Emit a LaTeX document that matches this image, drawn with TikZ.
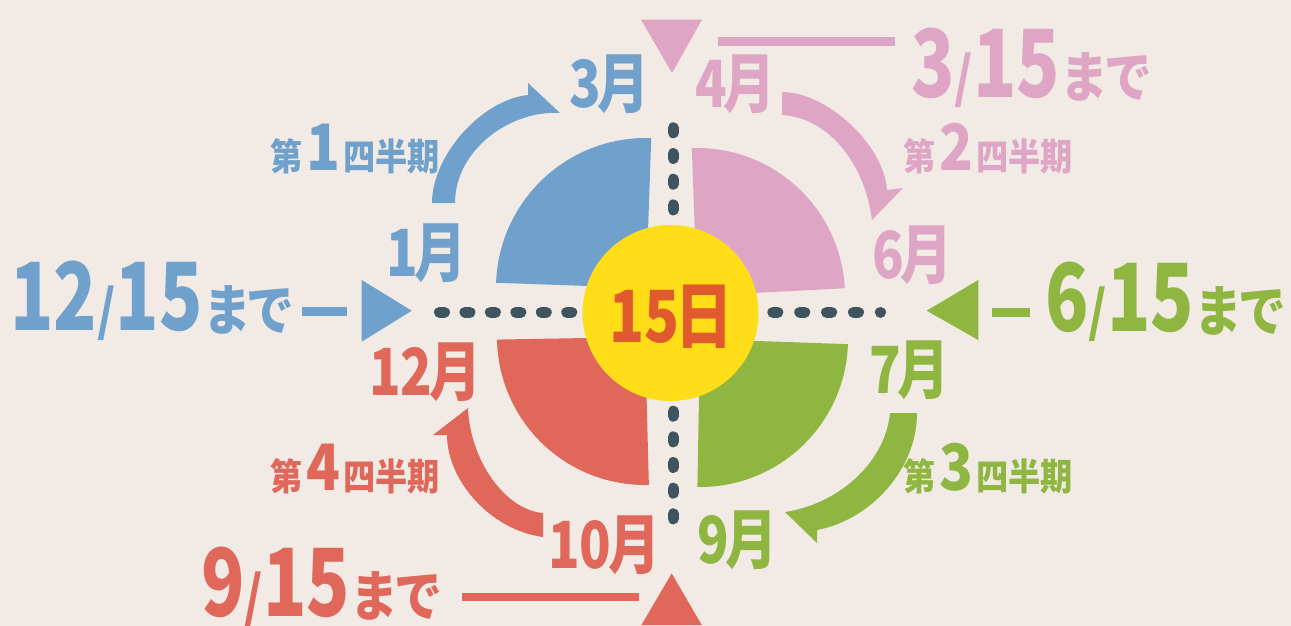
\documentclass[tikz,border=0pt]{standalone}
\usepackage{fontspec}
\newfontfamily\jp[FakeStretch=0.87,RawFeature=+palt]{Noto Sans CJK JP}
\newfontfamily\jpn[FakeStretch=0.76,RawFeature=+palt]{Noto Sans CJK JP}
\newfontfamily\jpm[FakeStretch=0.8,RawFeature=+palt]{Noto Sans CJK JP}
\definecolor{bg}{HTML}{F1EAE5}
\definecolor{cblue}{HTML}{6FA1CC}
\definecolor{cpink}{HTML}{DEA6C4}
\definecolor{cgreen}{HTML}{8FB640}
\definecolor{cred}{HTML}{E0685A}
\definecolor{cyel}{HTML}{FFDD19}
\definecolor{cdot}{HTML}{3E5560}
\definecolor{corange}{HTML}{E05A2E}
\newcommand\bigdate[2]{{\jpn\bfseries\fontsize{94}{94}\selectfont #1}{\jp\bfseries\fontsize{55}{55}\selectfont /}{\jpn\bfseries\fontsize{94}{94}\selectfont #2}\kern3pt{\jp\bfseries\fontsize{55}{55}\selectfont まで}}
\newcommand\quarterlbl[1]{第\kern4pt{\fontsize{64}{64}\selectfont #1}\kern3pt 四半期}
\newcommand\monthlbl[1]{#1\kern-3pt 月}
\begin{document}
\begin{tikzpicture}[x=1pt,y=-1pt,
  mon/.style={inner sep=0pt, anchor=base west, font=\jpm\bfseries\fontsize{65}{65}\selectfont},
  bigd/.style={inner sep=0pt, anchor=base west},
  qtr/.style={inner sep=0pt, anchor=base west, font=\jp\bfseries\fontsize{37}{37}\selectfont},
  dots/.style={draw=cdot, line width=11pt, line cap=round},
  bar/.style={line cap=butt}]
\useasboundingbox (0,0) rectangle (1291,626);
\fill[bg] (0,0) rectangle (1291,626);

% quarter wedges
\fill[cblue]  (646,288) -- +(182:150) arc[start angle=182, end angle=272, radius=150] -- cycle;
\fill[cpink]  (697,296) -- +(268:148) arc[start angle=268, end angle=357, radius=148] -- cycle;
\fill[cgreen] (700,339) -- +(2:148) arc[start angle=2, end angle=91, radius=148] -- cycle;
\fill[cred]   (645,337) -- +(88.5:148) arc[start angle=88.5, end angle=179, radius=148] -- cycle;

% dotted axes
\coordinate (vt1) at (673.3,127.8); \coordinate (vt2) at (673.3,209.9);
\coordinate (vb1) at (673.3,411.2); \coordinate (vb2) at (673.3,519.2);
\coordinate (hl1) at (439.5,312.3); \coordinate (hl2) at (571.8,312.3);
\coordinate (hr1) at (772.8,312.3); \coordinate (hr2) at (880.5,312.3);
\draw[dots, dash pattern=on 5pt off 20.7pt] (vt1) -- (vt2);
\draw[dots, dash pattern=on 5pt off 20.65pt] (vb1) -- (vb2);
\draw[dots, dash pattern=on 5pt off 20.45pt] (hl1) -- (hl2);
\draw[dots, dash pattern=on 5pt off 21.9pt] (hr1) -- (hr2);

% center
\node[circle, fill=cyel, minimum size=176pt, inner sep=0pt] (ctr) at (670.5,313) {};
\node[inner sep=0pt, anchor=base, text=corange, font=\jpm\bfseries\fontsize{72}{72}\selectfont] (day) at (671,342) {15\kern-4pt 日};

% curved arrows
\fill[cblue] (432,203) .. controls (432,156) and (481,100) .. (528,95) -- (528,83) -- (560,113)
   .. controls (510,110) and (455,150) .. (455,203) -- cycle;
\fill[cpink] (782,92) .. controls (827,92) and (884,145) .. (887,190) -- (903,188) -- (872,220)
   .. controls (865,165) and (830,118) .. (782,115) -- cycle;
\fill[cgreen] (917,413) .. controls (917,470) and (870,520) .. (817,530) -- (817,543) -- (785,512)
   .. controls (835,505) and (885,465) .. (890,413) -- cycle;
\fill[cred] (543,537) .. controls (490,530) and (447,480) .. (447,435) -- (433,435) -- (468,408)
   .. controls (470,460) and (505,510) .. (543,513) -- cycle;

% pointer triangles and bars
\fill[cpink] (641,19.6) -- (702,19.6) -- (672,73) -- cycle;
\fill[cred] (641.4,625) -- (701.7,625) -- (671.7,573.4) -- cycle;
\fill[cblue] (361.7,280) -- (361.7,341.7) -- (411.7,310.7) -- cycle;
\fill[cgreen] (978.3,280) -- (978.3,340) -- (926.7,310.7) -- cycle;

\coordinate (pb1) at (718,42); \coordinate (pb2) at (895,42);
\coordinate (rb1) at (462.4,597.2); \coordinate (rb2) at (639,597.2);
\coordinate (bb1) at (301.7,311.3); \coordinate (bb2) at (346.7,311.3);
\coordinate (gb1) at (991.7,312.5); \coordinate (gb2) at (1030,312.5);
\draw[cpink, line width=9pt, bar] (pb1) -- (pb2);
\draw[cred, line width=8pt, bar] (rb1) -- (rb2);
\draw[cblue, line width=9.3pt, bar] (bb1) -- (bb2);
\draw[cgreen, line width=8.4pt, bar] (gb1) -- (gb2);

% deadline texts
\node[bigd, text=cpink] (d3) at (911,98) {\bigdate{3}{15}};
\node[bigd, text=cgreen] (d6) at (1045,331.5) {\bigdate{6}{15}};
\node[bigd, text=cred] (d9) at (201,616) {\bigdate{9}{15}};
\node[bigd, text=cblue] (d12) at (10,330.7) {\bigdate{12}{15}};

% month labels
\node[mon, text=cblue] (m3) at (569,107) {\monthlbl{3}};
\node[mon, text=cpink] (m4) at (695,107) {\monthlbl{4}};
\node[mon, text=cblue] (m1) at (386,276.7) {\monthlbl{1}};
\node[mon, text=cpink] (m6) at (872,278) {\monthlbl{6}};
\node[mon, text=cred] (m12) at (369,395) {\monthlbl{12}};
\node[mon, text=cgreen] (m7) at (869,393) {\monthlbl{7}};
\node[mon, text=cred] (m10) at (548,568) {\monthlbl{10}};
\node[mon, text=cgreen] (m9) at (697,563) {\monthlbl{9}};

% quarter labels
\node[qtr, text=cblue] (q1) at (270,170) {\quarterlbl{1}};
\node[qtr, text=cpink] (q2) at (903,170) {\quarterlbl{2}};
\node[qtr, text=cgreen] (q3) at (903,490) {\quarterlbl{3}};
\node[qtr, text=cred] (q4) at (270,490) {\quarterlbl{4}};
\end{tikzpicture}
\end{document}
